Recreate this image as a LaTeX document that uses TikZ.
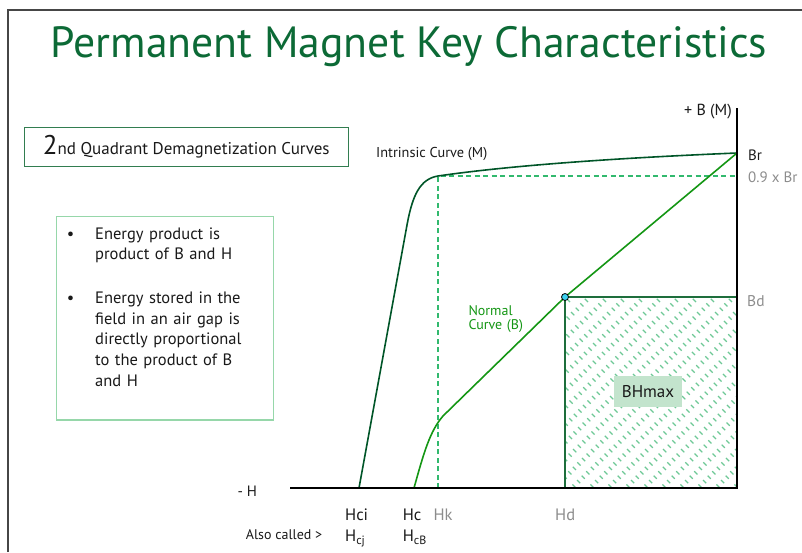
\documentclass[tikz,border=0pt]{standalone}
\usepackage{fontspec}
\setmainfont{PT Sans}
\usepackage{tikz}

\newcommand{\pxfont}[1]{\fontsize{#1}{#1}\selectfont}
\newcommand{\subtxt}[1]{\raisebox{-2.5pt}{\pxfont{12}#1}}

\begin{document}
\begin{tikzpicture}
	[x=1pt,y=-1pt,line cap=butt,
	%Styles
	axes/.style={line width=2.6pt,black,line join=miter},
	frame line/.style={line width=1.6pt,framecolor},
	intrinsic line/.style={line width=1.6pt,intrinsiccolor},
	normal line/.style={line width=1.6pt,normalcolor},
	guide line/.style={line width=1.3pt,guidecolor,dash pattern=on 5pt off 3.5pt},
	hatch line/.style={line width=1.1pt,hatchcolor,dash pattern=on 4.5pt off 8pt},
	bh border/.style={line width=1.8pt,bhborder},
	axis text/.style={inner sep=0pt,anchor=base west,text=inkcolor,font=\pxfont{16.5}},
	grey text/.style={axis text,text=greycolor},
	note text/.style={axis text,text width=175pt,align=left,font=\fontsize{16.5}{20.7}\selectfont},
	info box/.style={draw,line width=1.2pt,inner sep=0pt},
	dot/.style={circle,draw=black,fill=dotcolor,line width=0.8pt,inner sep=0pt,minimum size=7pt}
	]
	
	%Colors
	\definecolor{titlecolor}{RGB}{12,106,54}
	\definecolor{intrinsiccolor}{RGB}{0,85,40}
	\definecolor{normalcolor}{RGB}{20,150,20}
	\definecolor{guidecolor}{RGB}{50,185,110}
	\definecolor{hatchcolor}{RGB}{110,200,150}
	\definecolor{bhborder}{RGB}{30,110,60}
	\definecolor{bhfill}{RGB}{195,228,205}
	\definecolor{quadcolor}{RGB}{50,125,80}
	\definecolor{bulletcolor}{RGB}{150,215,170}
	\definecolor{greycolor}{RGB}{140,140,140}
	\definecolor{inkcolor}{RGB}{25,25,25}
	\definecolor{dotcolor}{RGB}{60,210,240}
	\definecolor{framecolor}{RGB}{70,70,70}
	
	\useasboundingbox (0,0) rectangle (802,552);
	\draw[frame line] (8,552) -- (8,10) -- (802,10);
	
	%Title and boxes
	\node[anchor=base,inner sep=0pt,text=titlecolor,font=\pxfont{43.7}] (title) at (409,57) {Permanent Magnet Key Characteristics};
	
	\node[info box,draw=quadcolor,minimum width=324pt,minimum height=39.5pt,text=inkcolor] (quadrant) at (186.2,147)
		{{\pxfont{27}2}{\pxfont{17}nd Quadrant Demagnetization Curves}};
	
	\node[info box,draw=bulletcolor,minimum width=216.7pt,minimum height=203.3pt,anchor=north west] (notes) at (56,216) {};
	\node[axis text,anchor=base] (bullet1) at (70.7,239) {\textbullet};
	\node[note text] (item1) at (95,239) {Energy product is\\product of B and H};
	\node[axis text,anchor=base] (bullet2) at (70.7,303.3) {\textbullet};
	\node[note text] (item2) at (95,303.3) {Energy stored in the\\field in an air gap is\\directly proportional\\to the product of B\\and H};
	
	%Points on the axes
	\coordinate (origin) at (737,488);
	\coordinate (Btop) at (737,108);
	\coordinate (Hneg) at (290,488);
	\coordinate (Br) at (737,153);
	\coordinate (Bd) at (737,297);
	\coordinate (Hd) at (565,297);
	\coordinate (Hdaxis) at (565,488);
	\coordinate (knee) at (438,176);
	\coordinate (kneeB) at (737,176);
	\coordinate (Hk) at (438,488);
	\coordinate (Hci) at (359,488);
	\coordinate (Hc) at (414,488);
	
	%BHmax area, dashes staggered line by line
	\begin{scope}
		\clip (Hd) rectangle (origin);
		\foreach \x in {360,378,...,745}
			\draw[hatch line] (\x,290) -- ++(205,205);
		\foreach \x in {369,387,...,745}
			\draw[hatch line,dash phase=6.25pt] (\x,290) -- ++(205,205);
	\end{scope}
	\draw[bh border] (Hdaxis) -- (Hd) -- (Bd);
	
	%The graphic
	\draw[guide line] (Hk) -- (knee) -- (kneeB);
	\draw[intrinsic line] (Hci) -- (407,225) .. controls (412.5,195) and (420,179) .. (knee)
		.. controls (520,164) and (640,157) .. (Br);
	\draw[normal line] (Hc) .. controls (424,452) and (430,431) .. (443,416) -- (Hd) -- (Br);
	\draw[axes] (Hneg) -- (origin) -- (Btop);
	
	\node[fill=bhfill,minimum width=68pt,minimum height=31pt,inner sep=0pt,text=inkcolor,font=\pxfont{17}] (BHmax) at (648,391.5) {BHmax};
	\node[dot] (Hdpoint) at (Hd) {};
	
	%Labels
	\node[axis text,anchor=base east,font=\pxfont{16}] (Blabel) at (732,115.7) {+ B (M)};
	\node[axis text,font=\pxfont{15}] (Brlabel) at (748,160.7) {Br};
	\node[grey text,font=\pxfont{15}] (Br90) at (748,182.3) {0.9 x Br};
	\node[grey text,font=\pxfont{15.5}] (Bdlabel) at (747,306) {Bd};
	\node[axis text,font=\pxfont{14.3}] (intrinsic) at (376,157.7) {Intrinsic Curve (M)};
	\node[axis text,text=normalcolor,text width=80pt,align=left,font=\fontsize{14}{14.2}\selectfont] (normal) at (468.3,315.7) {Normal\\Curve (B)};
	
	\node[axis text,font=\pxfont{15}] (Hlabel) at (237.3,496) {- H};
	\node[axis text] (Hcilabel) at (345,520) {Hci};
	\node[axis text] (Hclabel) at (402.7,520) {Hc};
	\node[grey text] (Hklabel) at (433.3,520) {Hk};
	\node[grey text] (Hdlabel) at (555,520) {Hd};
	\node[axis text,font=\pxfont{14}] (also) at (245.7,539) {Also called >};
	\node[axis text] (Hcj) at (345,541.7) {H\subtxt{cj}};
	\node[axis text] (HcB) at (402.7,541.7) {H\subtxt{cB}};
\end{tikzpicture}
\end{document}
